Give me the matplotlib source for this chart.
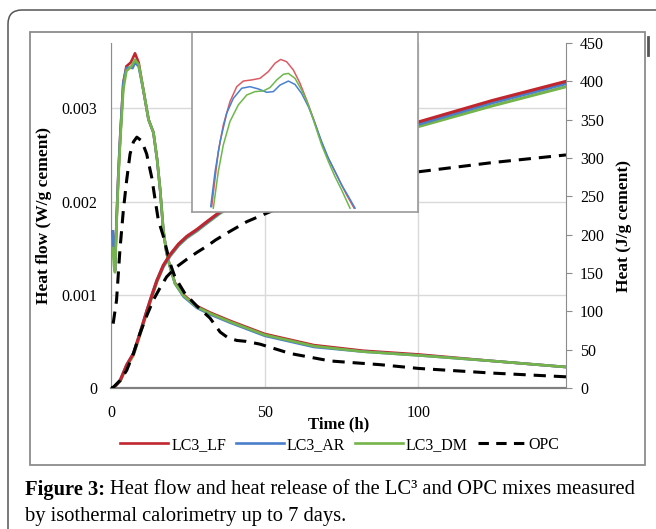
import matplotlib
matplotlib.use("Agg")
import matplotlib.pyplot as plt
from matplotlib.lines import Line2D
from matplotlib.patches import Rectangle, FancyBboxPatch

plt.rcParams['font.family'] = ['Liberation Serif', 'DejaVu Serif']

# ## Data
# heat flow (W/g cement), LC3 mixes
t_flow = [0.6, 1.0, 1.3, 1.8, 2.4, 3.0, 4.0, 5.0, 6.4, 7.0, 7.8, 9.0, 10.5, 12.2, 13.8,
          15.0, 16.0, 17.0, 18.0, 19.2, 20.8, 23.6, 27.9, 32.2, 38.8, 50.0, 66.0, 82.0,
          100.0, 124.0, 148.0]
flow_lf = [0.00168, 0.0014, 0.00126, 0.0018, 0.0023, 0.0027, 0.00327, 0.00345, 0.00349, 0.00353,
           0.00359, 0.00349, 0.0032, 0.00288, 0.00274, 0.00245, 0.00212, 0.0017, 0.00146, 0.0013,
           0.00113, 0.001, 0.00088, 0.00081, 0.00072, 0.00058, 0.00046, 0.0004, 0.00036, 0.00029,
           0.000225]
flow_ar = [0.00168, 0.0014, 0.00126, 0.0018, 0.0023, 0.0027, 0.00327, 0.00343, 0.00344, 0.00343,
           0.00349, 0.00345, 0.0032, 0.00288, 0.00274, 0.00245, 0.00212, 0.0017, 0.00146, 0.0013,
           0.00112, 0.00098, 0.00086, 0.00079, 0.0007, 0.00056, 0.00044, 0.00039, 0.00035, 0.00029,
           0.000225]
flow_dm = [0.0015, 0.0013, 0.00124, 0.00175, 0.00225, 0.00265, 0.0032, 0.0034, 0.00344, 0.00347,
           0.00352, 0.00347, 0.0032, 0.00288, 0.00274, 0.00245, 0.00212, 0.0017, 0.00146, 0.0013,
           0.00112, 0.00099, 0.00087, 0.0008, 0.00071, 0.00057, 0.00045, 0.00039, 0.00035, 0.00029,
           0.000225]

# heat flow, OPC
t_flow_opc = [0.7, 1.8, 2.9, 4.0, 5.1, 6.2, 7.3, 8.4, 10.0, 11.6, 13.3, 14.3, 15.4, 17.0, 19.2,
              20.8, 24.1, 27.9, 32.2, 35.5, 38.0, 40.9, 44.0, 48.5, 58.3, 71.3, 87.6, 100.0,
              124.0, 148.0]
flow_opc = [0.00069, 0.00094, 0.00148, 0.0019, 0.00223, 0.00251, 0.00264, 0.00269, 0.00265,
            0.00251, 0.00225, 0.00203, 0.0018, 0.00163, 0.00134, 0.00119, 0.00101, 0.00088,
            0.00075, 0.0006, 0.00054, 0.00051, 0.0005, 0.00047, 0.00037, 0.00029, 0.00025,
            0.00021, 0.00016, 0.00012]

# cumulative heat (J/g cement)
t_heat = [0.0, 1.0, 3.0, 5.1, 7.3, 9.4, 11.6, 13.3, 14.9, 17.0, 19.2, 22.0, 24.7, 28.0, 31.2,
          35.5, 42.0, 50.0, 65.0, 80.0, 100.0, 124.0, 148.0]
heat_lf = [0, 1, 10, 30, 45, 71, 100, 121, 140, 160, 174, 188, 198, 207, 217, 230, 246, 263,
           292, 317, 347, 375, 400]
heat_ar = [0, 1, 10, 30, 45, 71, 100, 121, 140, 159, 173, 187, 197, 206, 216, 229, 244, 261,
           290, 315, 344, 372, 397]
heat_dm = [0, 1, 9, 28, 43, 69, 98, 119, 138, 158, 172, 186, 196, 205, 215, 228, 243, 259,
           287, 312, 341, 368, 393]

t_heat_opc = [0.0, 0.75, 3.0, 5.1, 7.3, 9.4, 11.6, 13.8, 16.0, 18.1, 21.0, 24.7, 28.0, 31.2,
              34.0, 37.7, 44.2, 51.8, 62.0, 75.0, 87.0, 100.0, 124.0, 148.0]
heat_opc = [0, 1, 10, 23, 45, 71, 94, 115, 131, 145, 157, 168, 177, 185, 193, 202, 217, 230,
            246, 262, 273, 282, 294, 304]

# inset: close-up of the main peak
ins_t_lf = [3.22, 3.43, 3.63, 3.94, 4.35, 4.77, 5.18, 5.70, 6.21, 6.73, 7.14, 7.49, 7.86, 8.28,
            8.69, 9.10, 9.52, 9.93, 10.34, 10.76, 11.17, 11.58, 12.04]
ins_lf = [0.002924, 0.00305, 0.003168, 0.003287, 0.00339, 0.003457, 0.003482, 0.003487,
          0.003494, 0.003524, 0.003561, 0.003578, 0.003568, 0.003531, 0.003472, 0.003398,
          0.003316, 0.003228, 0.003154, 0.003094, 0.003035, 0.002976, 0.002917]
ins_t_ar = [3.16, 3.43, 3.74, 4.15, 4.56, 5.08, 5.59, 6.11, 6.63, 7.04, 7.45, 7.97, 8.38, 8.79,
            9.21, 9.62, 10.03, 10.45, 10.86, 11.27, 11.69, 12.10]
ins_ar = [0.002924, 0.00308, 0.003213, 0.003339, 0.003405, 0.00345, 0.003457, 0.003447,
          0.003432, 0.003435, 0.003464, 0.003482, 0.003467, 0.003427, 0.003368, 0.003294,
          0.003213, 0.003139, 0.00308, 0.00302, 0.002969, 0.002917]
ins_t_dm = [3.32, 3.63, 3.94, 4.35, 4.87, 5.39, 5.90, 6.42, 6.83, 7.25, 7.66, 7.97, 8.38, 8.79,
            9.21, 9.62, 10.03, 10.45, 10.86, 11.27, 11.69, 11.79]
ins_dm = [0.002917, 0.00308, 0.003198, 0.003302, 0.003376, 0.00342, 0.003435, 0.003438,
          0.003453, 0.003487, 0.003512, 0.003516, 0.003494, 0.003442, 0.003376, 0.003287,
          0.003198, 0.003124, 0.003057, 0.002998, 0.002932, 0.002917]

labels = ['LC3_LF', 'LC3_AR', 'LC3_DM', 'OPC']
c_lf, c_ar, c_dm = '#c0262d', '#4a7fc9', '#74b44a'

W, H = 656, 529
fig = plt.figure(figsize=(W / 100, H / 100), dpi=100)

# outer rounded frame and chart area box (pixel positions converted to inches)
fig.patches.append(FancyBboxPatch((8 / 100, -0.5), 7.0, (H - 10) / 100 + 0.5,
                                  boxstyle='round,pad=0,rounding_size=0.14',
                                  transform=fig.dpi_scale_trans, fill=False,
                                  edgecolor='#555555', linewidth=1.1))
fig.patches.append(Rectangle((30 / W, 1 - 465 / H), 615 / W, 433 / H, transform=fig.transFigure,
                             fill=False, edgecolor='#8c8c8c', linewidth=1.3))
fig.lines.append(Line2D([648 / W, 648 / W], [1 - 37 / H, 1 - 55 / H], transform=fig.transFigure,
                        color='#555555', lw=2.0))

# ## Main axes
ax = fig.add_axes([111 / W, 1 - 388 / H, 455 / W, 345 / H])
ax.plot(t_flow, flow_lf, color=c_lf, lw=1.9, zorder=3)
ax.plot(t_flow, flow_ar, color=c_ar, lw=1.9, zorder=3)
ax.plot(t_flow, flow_dm, color=c_dm, lw=1.9, zorder=3)
ax.plot(t_flow_opc, flow_opc, color='black', lw=2.2, dashes=(4, 2.6), zorder=3)
ax.set_xlim(0, 148)
ax.set_ylim(0, 0.0037)
ax.set_xticks([0, 50, 100])
ax.set_yticks([0, 0.001, 0.002, 0.003])
ax.set_yticklabels(['0', '0.001', '0.002', '0.003'])
ax.grid(True, color='#d9d9d9', lw=1.0)
ax.set_axisbelow(True)
ax.tick_params(axis='both', length=0, labelsize=11.5)
ax.tick_params(axis='y', pad=10)
ax.tick_params(axis='x', pad=12)
for s in ['top', 'right']:
    ax.spines[s].set_visible(False)
ax.spines['left'].set_color('#8c8c8c')
ax.spines['bottom'].set_color('#808080')
ax.spines['bottom'].set_linewidth(1.6)
ax.set_xlabel('Time (h)', fontsize=12, fontweight='bold')
ax.xaxis.set_label_coords(0.5, -0.082)
ax.set_ylabel('Heat flow (W/g cement)', fontsize=12.5, fontweight='bold')
ax.yaxis.set_label_coords(-0.13, 0.5)

ax2 = ax.twinx()
ax2.plot(t_heat, heat_dm, color=c_dm, lw=2.2)
ax2.plot(t_heat, heat_ar, color=c_ar, lw=2.2)
ax2.plot(t_heat, heat_lf, color=c_lf, lw=2.2)
ax2.plot(t_heat_opc, heat_opc, color='black', lw=2.2, dashes=(4, 2.6))
ax2.set_ylim(0, 450)
ax2.set_yticks(range(0, 451, 50))
ax2.tick_params(axis='y', length=4, color='#8c8c8c', pad=6, labelsize=11.5)
for s in ['top', 'left', 'bottom']:
    ax2.spines[s].set_visible(False)
ax2.spines['right'].set_color('#8c8c8c')
ax2.set_ylabel('Heat (J/g cement)', fontsize=12.5, fontweight='bold')
ax2.yaxis.set_label_coords(1.11, 0.47)

# ## Inset
axi = fig.add_axes([192 / W, 1 - 212 / H, 226 / W, 180 / H])
axi.plot(ins_t_lf, ins_lf, color='#dc5a64', lw=1.1)
axi.plot(ins_t_ar, ins_ar, color='#4a80d0', lw=1.1)
axi.plot(ins_t_dm, ins_dm, color='#6db84a', lw=1.1)
axi.set_xlim(2, 16)
axi.set_ylim(0.0029, 0.0037)
axi.set_xticks([])
axi.set_yticks([])
for s in axi.spines.values():
    s.set_color('#9a9a9a')
    s.set_linewidth(1.2)

# ## Legend
handles = [Line2D([], [], color=c_lf, lw=1.9),
           Line2D([], [], color=c_ar, lw=1.9),
           Line2D([], [], color=c_dm, lw=1.9),
           Line2D([], [], color='black', lw=2.2, dashes=(3.4, 2.4))]
fig.legend(handles, labels, loc='center', bbox_to_anchor=(340 / W, 1 - 445 / H), ncol=4,
           frameon=False, fontsize=11.5, handlelength=3.0, handletextpad=0.2,
           columnspacing=0.6)

# ## Caption
cap = fig.text(25 / W, 1 - 490 / H, 'Figure 3:', fontsize=14.8, fontweight='bold',
               va='center', ha='left')
fig.canvas.draw()
bb = cap.get_window_extent()
fig.text((bb.x1 + 5) / W, 1 - 490 / H,
         'Heat flow and heat release of the LC\u00b3 and OPC mixes measured',
         fontsize=14.8, va='center', ha='left')
fig.text(25 / W, 1 - 516 / H, 'by isothermal calorimetry up to 7 days.', fontsize=14.8,
         va='center', ha='left')

fig.savefig('out.png', dpi=100)
